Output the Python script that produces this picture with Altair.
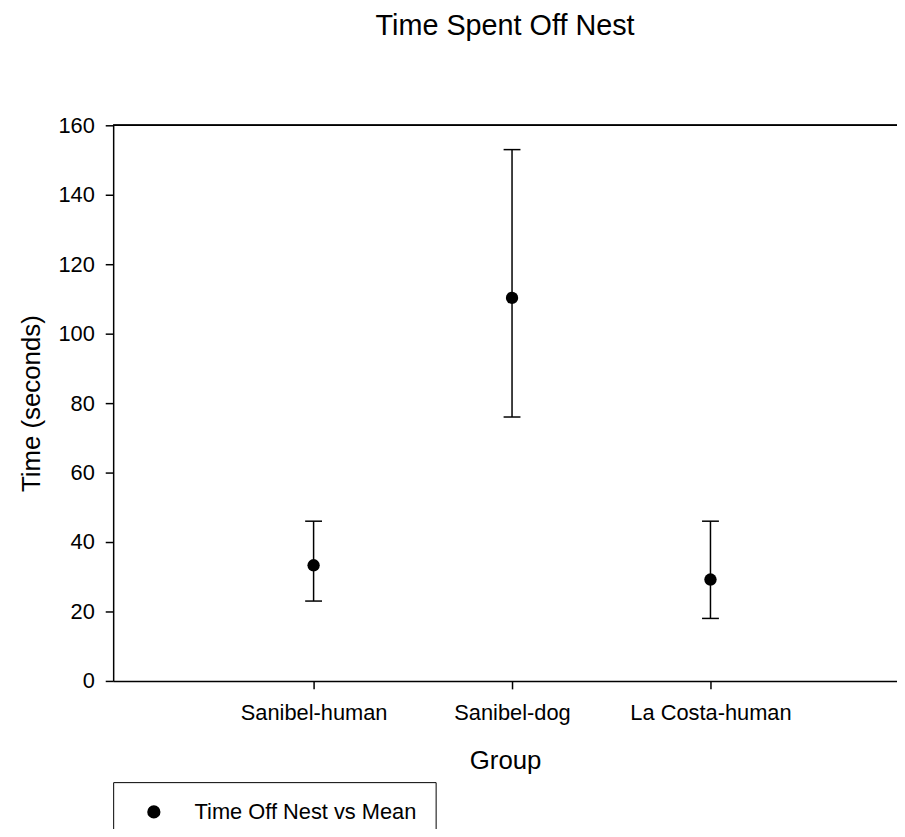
import altair as alt
import pandas as pd

groups = ["Sanibel-human", "Sanibel-dog", "La Costa-human"]
means = [33.3, 110.3, 29.2]
upper = [46.0, 153.0, 46.0]
lower = [23.0, 76.0, 18.0]
positions = [1, 2, 3]
series_name = "Time Off Nest vs Mean"

df = pd.DataFrame({
    "pos": positions,
    "group": groups,
    "mean": means,
    "upper": upper,
    "lower": lower,
    "series": [series_name] * len(groups),
})

label_expr = "[" + ", ".join(["''"] + ["'" + g + "'" for g in groups]) + "][datum.value]"

FONT = "Liberation Sans"

x_enc = alt.X(
    "pos:Q",
    scale=alt.Scale(domain=[-0.01, 3.94], nice=False, zero=False),
    axis=alt.Axis(
        values=positions, labelExpr=label_expr, title="Group",
        grid=False, tickSize=8, labelPadding=14, labelFontSize=22,
        titleFontSize=26, titleY=88, titleBaseline="alphabetic",
        labelFlush=False, labelOverlap=False,
    ),
)
y_scale = alt.Scale(domain=[0, 160], nice=False)
y_axis = alt.Axis(
    values=list(range(0, 161, 20)), title="Time (seconds)", grid=False,
    tickSize=8, labelPadding=11, labelFontSize=22, titleFontSize=26,
    titleX=-74, titleY=280, titleBaseline="alphabetic",
)

base = alt.Chart(df)

top_rule = base.mark_rule(color="black", strokeWidth=1.5).encode(
    y=alt.datum(160, scale=y_scale)
)

bars = base.mark_rule(color="black", strokeWidth=1.5).encode(
    x=x_enc,
    y=alt.Y("lower:Q", scale=y_scale, axis=y_axis),
    y2="upper:Q",
)

caps_up = base.mark_tick(color="black", size=17, thickness=1.5, orient="horizontal", opacity=1).encode(
    x="pos:Q", y="upper:Q"
)
caps_low = base.mark_tick(color="black", size=17, thickness=1.5, orient="horizontal", opacity=1).encode(
    x="pos:Q", y="lower:Q"
)

points = base.mark_circle(size=155, opacity=1).encode(
    x="pos:Q",
    y="mean:Q",
    color=alt.Color(
        "series:N",
        scale=alt.Scale(range=["black"]),
        legend=alt.Legend(
            title=None, orient="none", legendX=0, legendY=662,
            strokeColor="black", fillColor="white", padding=19,
            symbolOffset=11, labelOffset=30, symbolType="circle",
            symbolSize=140, symbolFillColor="black", symbolStrokeColor="black",
            labelFontSize=22, labelFont=FONT, labelColor="black", labelLimit=400,
        ),
    ),
)

chart = alt.layer(top_rule, bars, caps_up, caps_low, points).properties(
    width=790,
    height=560,
    title=alt.TitleParams(
        "Time Spent Off Nest", fontSize=29, font=FONT, fontWeight="normal",
        anchor="middle", offset=51, baseline="alphabetic", color="black",
    ),
    padding={"left": 106, "top": 115, "right": 0, "bottom": 146},
    autosize=alt.AutoSizeParams(type="none"),
).configure_view(stroke=None).configure_axis(
    labelFont=FONT, titleFont=FONT, labelColor="black", titleColor="black",
    domainColor="black", tickColor="black", domainWidth=1.5, tickWidth=1.5,
    titleFontWeight="normal",
)

chart.save("out.html", embed_options={"renderer": "svg", "actions": False})
